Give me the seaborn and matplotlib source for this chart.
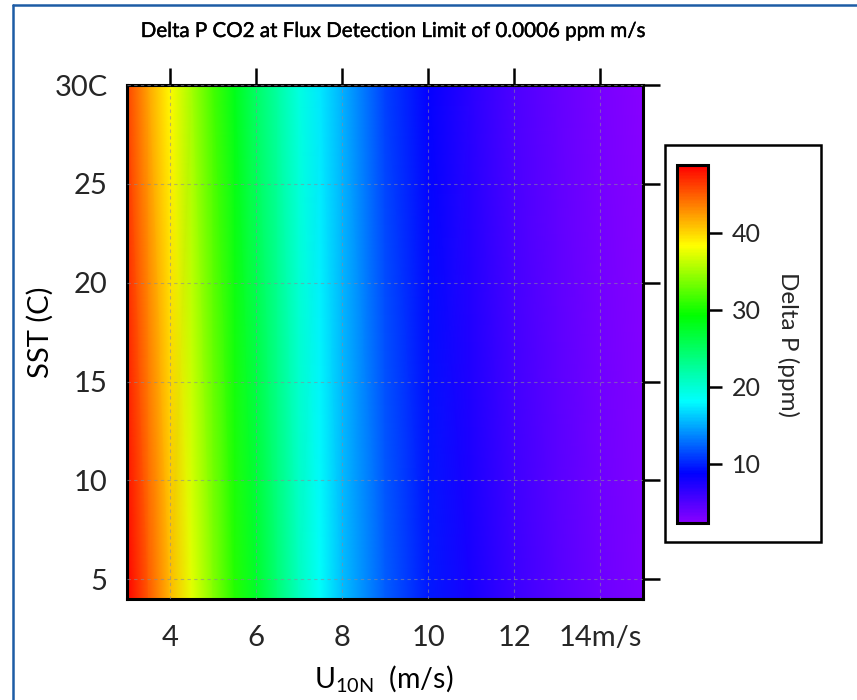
import numpy as np
import matplotlib
matplotlib.use("Agg")
import matplotlib.pyplot as plt
import matplotlib.patheffects as pe
import seaborn as sns
from matplotlib.colors import LinearSegmentedColormap
from matplotlib.patches import Rectangle
from matplotlib.lines import Line2D

# ---- data ----
wind_speed = [3, 3.5, 4, 4.5, 5, 5.5, 6, 6.5, 7, 7.5, 8, 9, 10, 11, 12, 13, 14, 15]
sst_levels = [4, 30]
delta_p_cold = [48.8, 45.0, 41.3, 37.4, 34.0, 30.6, 27.4, 24.2, 21.0, 18.3, 15.9,
                12.2, 9.6, 7.6, 6.0, 4.7, 3.7, 2.9]
delta_p_warm = [46.0, 42.0, 38.6, 35.0, 31.6, 28.2, 25.0, 22.2, 19.4, 17.2, 15.2,
                11.2, 8.6, 6.7, 5.2, 4.0, 3.1, 2.4]
x_ticks = [4, 6, 8, 10, 12, 14]
x_tick_labels = ["4", "6", "8", "10", "12", "14m/s"]
y_ticks = [5, 10, 15, 20, 25, 30]
y_tick_labels = ["5", "10", "15", "20", "25", "30C"]
cbar_ticks = [10, 20, 30, 40]
cbar_range = [2.3, 48.8]

sns.set_theme(style="white")
plt.rcParams['font.family'] = ['Lato', 'DejaVu Sans']
plt.rcParams['mathtext.fontset'] = 'custom'
plt.rcParams['mathtext.rm'] = 'Lato'
plt.rcParams['mathtext.it'] = 'Lato'

cmap = LinearSegmentedColormap.from_list(
    "igor_rainbow",
    [(0.0, (0.53, 0.0, 1.0)), (0.137, (0.0, 0.0, 1.0)), (0.34, (0.0, 1.0, 1.0)),
     (0.58, (0.0, 1.0, 0.0)), (0.776, (1.0, 1.0, 0.0)), (1.0, (1.0, 0.0, 0.0))])

fig = plt.figure(figsize=(8.57, 7.0), dpi=100)
ax = fig.add_axes([127 / 857, 1 - 599 / 700, 516 / 857, 514 / 700])

Z = np.array([delta_p_cold, delta_p_warm])
mesh = ax.pcolormesh(wind_speed, sst_levels, Z, shading='gouraud', cmap=cmap,
                     vmin=cbar_range[0], vmax=cbar_range[1], rasterized=True)
ax.set_xlim(3, 15)
ax.set_ylim(4, 30)

ax.set_xticks(x_ticks)
ax.set_xticklabels(x_tick_labels)
ax.set_yticks(y_ticks)
ax.set_yticklabels(y_tick_labels)
ax.tick_params(axis='both', which='major', direction='out', length=12, width=1.8,
               color='black', labelsize=21, top=True, right=True,
               labeltop=False, labelright=False)
ax.tick_params(axis='x', pad=7)
ax.tick_params(axis='y', pad=2)
for sp in ax.spines.values():
    sp.set_visible(True)
    sp.set_linewidth(2.2)
    sp.set_color('black')
ax.grid(True, color='#8a8a9a', linestyle=(0, (3, 3)), linewidth=0.8, alpha=0.6)
ax.set_axisbelow(False)

# colorbar
cax = fig.add_axes([677 / 857, 1 - 523 / 700, 31 / 857, 358 / 700])
cb = fig.colorbar(mesh, cax=cax, ticks=cbar_ticks)
cb.outline.set_linewidth(2.2)
cb.outline.set_edgecolor('black')
cax.tick_params(direction='out', length=10, width=1.8, labelsize=18, pad=7, color='black')
cb.set_label("Delta P (ppm)", rotation=270, fontsize=17.5, labelpad=28)

# colorbar legend box
fig.add_artist(Rectangle((665 / 857, 1 - 542 / 700), 156 / 857, 397 / 700,
                         transform=fig.transFigure, fill=False, edgecolor='black',
                         linewidth=1.8))

# texts
fig.text(393 / 857, 1 - 31 / 700, "Delta P CO2 at Flux Detection Limit of 0.0006 ppm m/s",
         ha='center', va='center', fontsize=14.8, color='black',
         path_effects=[pe.withStroke(linewidth=0.3, foreground='black')])
fig.text(40 / 857, 1 - 332 / 700, "SST (C)", rotation=90, ha='center', va='center',
         fontsize=21, color='black')
fig.text(384 / 857, 1 - 678 / 700, r"U$_{\mathrm{10N}}$  (m/s)", ha='center', va='center',
         fontsize=20.5, color='black')

# blue frame
fig.add_artist(Line2D([13 / 857, 13 / 857], [0, 1 - 5 / 700], transform=fig.transFigure,
                      color='#1d5ca5', linewidth=1.8))
fig.add_artist(Line2D([13 / 857, 1], [1 - 5 / 700, 1 - 5 / 700], transform=fig.transFigure,
                      color='#1d5ca5', linewidth=1.8))

fig.savefig("out.png", dpi=100, facecolor='white')
